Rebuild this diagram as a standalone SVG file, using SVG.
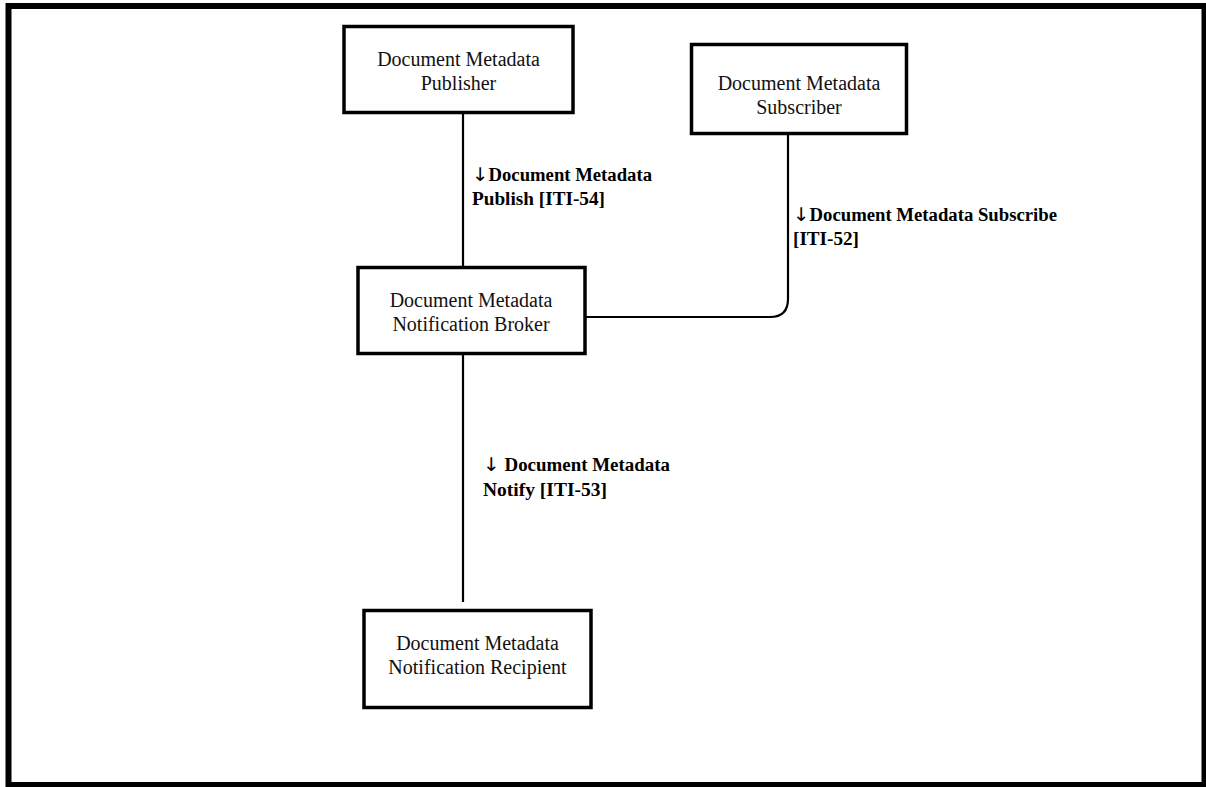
<svg xmlns="http://www.w3.org/2000/svg" width="1206" height="787" viewBox="0 0 1206 787">
  <style>
    .frame { fill: #ffffff; stroke: #000000; stroke-width: 6; }
    .node rect { fill: #ffffff; stroke: #000000; stroke-width: 3.5; }
    .node text { font-family: "Liberation Serif", "Times New Roman", serif; font-size: 20px; fill: #111111; text-anchor: middle; }
    .wire { fill: none; stroke: #000000; stroke-width: 2.2; }
    .lbl { font-family: "Liberation Serif", "Times New Roman", serif; font-size: 18px; font-weight: bold; fill: #000000; }
    .arr { font-family: "DejaVu Sans", sans-serif; font-size: 19px; font-weight: normal; }
  </style>

  <!-- outer frame -->
  <rect class="frame" x="8.5" y="6" width="1196" height="779"/>

  <!-- connectors -->
  <g id="connectors">
    <line class="wire" x1="463" y1="113" x2="463" y2="268"/>
    <line class="wire" x1="463" y1="355" x2="463" y2="602"/>
    <path class="wire" d="M788,134 V299 Q788,317 770,317 H586"/>
    <text class="lbl" x="472" y="181" textLength="180" lengthAdjust="spacingAndGlyphs"><tspan class="arr">↓</tspan>Document Metadata</text>
    <text class="lbl" x="472" y="205" textLength="133" lengthAdjust="spacingAndGlyphs">Publish [ITI-54]</text>
    <text class="lbl" x="793" y="221" textLength="264" lengthAdjust="spacingAndGlyphs"><tspan class="arr">↓</tspan>Document Metadata Subscribe</text>
    <text class="lbl" x="793" y="245" textLength="66" lengthAdjust="spacingAndGlyphs">[ITI-52]</text>
    <text class="lbl" x="483" y="471" textLength="187" lengthAdjust="spacingAndGlyphs"><tspan class="arr">↓</tspan> Document Metadata</text>
    <text class="lbl" x="483" y="496" textLength="124" lengthAdjust="spacingAndGlyphs">Notify [ITI-53]</text>
  </g>

  <!-- actors -->
  <g id="publisher" class="node">
    <rect x="344" y="26.5" width="229" height="86"/>
    <text x="458.5" y="66">Document Metadata</text>
    <text x="458.5" y="90">Publisher</text>
  </g>

  <g id="subscriber" class="node">
    <rect x="691.5" y="44.5" width="215" height="89"/>
    <text x="799" y="90">Document Metadata</text>
    <text x="799" y="114">Subscriber</text>
  </g>

  <g id="broker" class="node">
    <rect x="358" y="267.5" width="227" height="86"/>
    <text x="471" y="306.5">Document Metadata</text>
    <text x="471" y="330.5">Notification Broker</text>
  </g>

  <g id="recipient" class="node">
    <rect x="364" y="610.5" width="227" height="97"/>
    <text x="477.5" y="650">Document Metadata</text>
    <text x="477.5" y="674">Notification Recipient</text>
  </g>
</svg>
